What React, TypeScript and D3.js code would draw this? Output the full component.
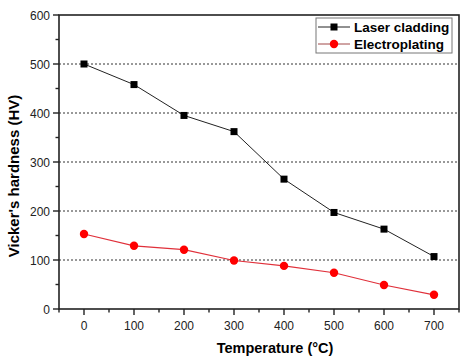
import * as d3 from 'd3'
import React, { useRef, useEffect } from 'react'

const temps = [0, 100, 200, 300, 400, 500, 600, 700]
const laser = [500, 458, 395, 362, 265, 197, 163, 107]
const electro = [153, 129, 121, 99, 88, 74, 49, 29]
const yTicks = [0, 100, 200, 300, 400, 500, 600]
const gridVals = [100, 200, 300, 400, 500]
const legendNames = ['Laser cladding', 'Electroplating']

const App = () => {
  const myRef = useRef<SVGSVGElement>(null)
  const width = 470
  const height = 362
  const margin = { top: 15, right: 11, bottom: 53, left: 59 }

  useEffect(() => {
    const svg = d3.select(myRef.current)
    svg.selectAll('*').remove()

    const x = d3.scaleLinear().domain([-50, 750]).range([margin.left, width - margin.right])
    const y = d3.scaleLinear().domain([0, 600]).range([height - margin.bottom, margin.top])
    const font = 'Arial, "Liberation Sans", sans-serif'

    svg.append('rect').attr('width', width).attr('height', height).attr('fill', '#fff')

    // dotted grid
    svg.selectAll('.grid')
      .data(gridVals)
      .enter().append('line')
      .attr('x1', x(-50)).attr('x2', x(750))
      .attr('y1', d => y(d)).attr('y2', d => y(d))
      .attr('stroke', '#333')
      .attr('stroke-width', 1)
      .attr('stroke-dasharray', '2,2')

    // frame
    svg.append('rect')
      .attr('x', x(-50)).attr('y', y(600))
      .attr('width', x(750) - x(-50)).attr('height', y(0) - y(600))
      .attr('fill', 'none').attr('stroke', '#222').attr('stroke-width', 1.6)

    // bottom ticks
    const xt = d3.range(-50, 751, 50)
    svg.selectAll('.xt')
      .data(xt)
      .enter().append('line')
      .attr('x1', d => x(d)).attr('x2', d => x(d))
      .attr('y1', y(0)).attr('y2', d => y(0) + (d % 100 === 0 ? 6 : 3.5))
      .attr('stroke', '#222').attr('stroke-width', 1.4)

    svg.selectAll('.xl')
      .data(temps)
      .enter().append('text')
      .attr('x', d => x(d)).attr('y', y(0) + 21)
      .attr('text-anchor', 'middle')
      .attr('font-family', font).attr('font-size', 12).attr('fill', '#222')
      .text(d => d)

    // left ticks
    const yt = d3.range(0, 601, 50)
    svg.selectAll('.yt')
      .data(yt)
      .enter().append('line')
      .attr('x1', x(-50)).attr('x2', d => x(-50) - (d % 100 === 0 ? 6 : 3.5))
      .attr('y1', d => y(d)).attr('y2', d => y(d))
      .attr('stroke', '#222').attr('stroke-width', 1.4)

    svg.selectAll('.yl')
      .data(yTicks)
      .enter().append('text')
      .attr('x', x(-50) - 9).attr('y', d => y(d) + 4.5)
      .attr('text-anchor', 'end')
      .attr('font-family', font).attr('font-size', 12).attr('fill', '#222')
      .text(d => d)

    // axis titles
    svg.append('text')
      .attr('x', 275).attr('y', 353)
      .attr('text-anchor', 'middle')
      .attr('font-family', font).attr('font-size', 14.5).attr('font-weight', 'bold')
      .text('Temperature (°C)')

    svg.append('text')
      .attr('transform', 'translate(19,176) rotate(-90)')
      .attr('text-anchor', 'middle')
      .attr('font-family', font).attr('font-size', 15).attr('font-weight', 'bold')
      .text("Vicker's hardness (HV)")

    const line = d3.line<number>().x((d, i) => x(temps[i])).y(d => y(d))

    svg.append('path').datum(laser)
      .attr('d', line).attr('fill', 'none').attr('stroke', '#222').attr('stroke-width', 1)
    svg.append('path').datum(electro)
      .attr('d', line).attr('fill', 'none').attr('stroke', '#e0303a').attr('stroke-width', 1.2)

    svg.selectAll('.sq')
      .data(laser)
      .enter().append('rect')
      .attr('x', (d, i) => x(temps[i]) - 3.5).attr('y', d => y(d) - 3.5)
      .attr('width', 7).attr('height', 7).attr('fill', '#000')

    svg.selectAll('.ci')
      .data(electro)
      .enter().append('circle')
      .attr('cx', (d, i) => x(temps[i])).attr('cy', d => y(d))
      .attr('r', 4.2).attr('fill', '#ff0000')

    // legend
    const lg = svg.append('g')
    lg.append('rect')
      .attr('x', 316).attr('y', 18).attr('width', 136).attr('height', 35)
      .attr('fill', '#fff').attr('stroke', '#777').attr('stroke-width', 1)
    const rows = [27, 44]
    legendNames.forEach((name, i) => {
      const cy = rows[i]
      lg.append('line')
        .attr('x1', 318).attr('x2', 350).attr('y1', cy).attr('y2', cy)
        .attr('stroke', i === 0 ? '#222' : '#a04848').attr('stroke-width', 1)
      if (i === 0) {
        lg.append('rect').attr('x', 334 - 3.5).attr('y', cy - 3.5)
          .attr('width', 7).attr('height', 7).attr('fill', '#000')
      } else {
        lg.append('circle').attr('cx', 334).attr('cy', cy).attr('r', 4.2).attr('fill', '#ff0000')
      }
      lg.append('text')
        .attr('x', 354).attr('y', cy + 5)
        .attr('font-family', font).attr('font-size', 13.5).attr('font-weight', 'bold')
        .text(name)
    })
  }, [])

  return (
    <svg ref={myRef} width={width} height={height}
      style={{ position: 'absolute', left: 0, top: 0 }}></svg>
  )
}

export default App
